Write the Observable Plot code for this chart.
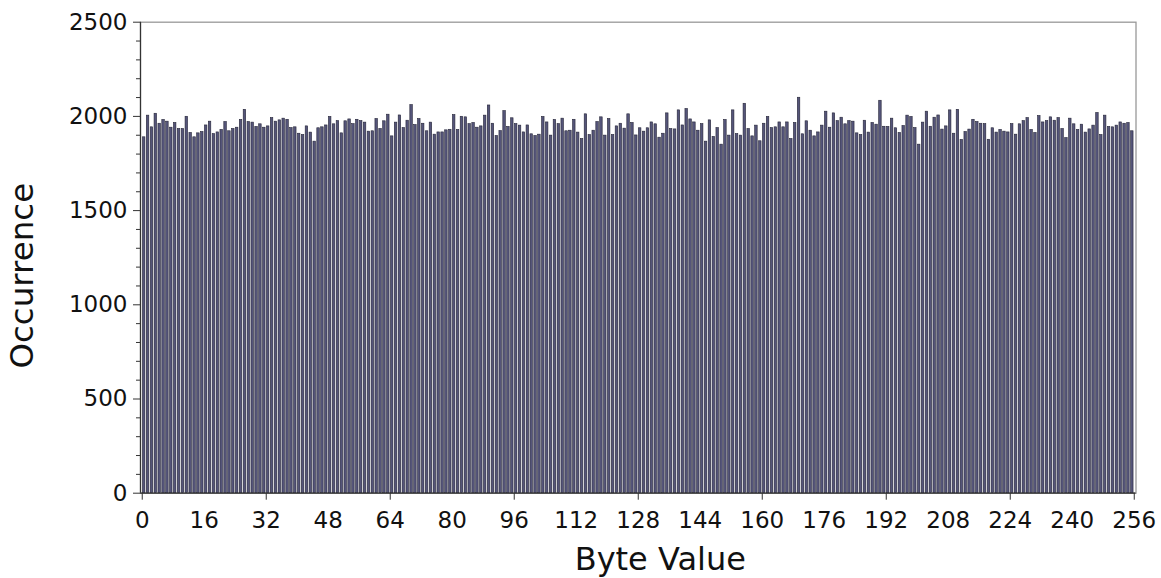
<!DOCTYPE html>
<html>
<head>
<meta charset="utf-8">
<script src="https://cdn.jsdelivr.net/npm/d3@7"></script>
<script src="https://cdn.jsdelivr.net/npm/@observablehq/plot@0.6"></script>
<style>
  html, body { margin: 0; padding: 0; background: #fff; }
  #chart svg { display: block; }
</style>
</head>
<body>
<div id="chart"></div>
<script>
const occurrences = [
  1889, 2004, 1942, 2014, 1961, 1981, 1972, 1940, 1965, 1933,
  1933, 1998, 1912, 1889, 1910, 1917, 1952, 1972, 1906, 1915,
  1928, 1970, 1921, 1933, 1940, 1981, 2035, 1970, 1967, 1944,
  1958, 1940, 1947, 1991, 1972, 1979, 1988, 1982, 1938, 1942,
  1908, 1901, 1947, 1914, 1866, 1937, 1942, 1952, 1997, 1958,
  1975, 1910, 1974, 1984, 1959, 1982, 1975, 1967, 1919, 1921,
  1986, 1933, 1974, 2009, 1894, 1967, 2005, 1938, 1977, 2060,
  1954, 1986, 1961, 1921, 1967, 1903, 1915, 1915, 1926, 1929,
  2007, 1928, 1998, 1995, 1959, 1965, 1940, 1947, 2004, 2058,
  1961, 1896, 1922, 2028, 1944, 1990, 1959, 1951, 1915, 1952,
  1905, 1896, 1903, 1997, 1968, 1898, 1981, 1959, 1988, 1921,
  1924, 1982, 1914, 1880, 2011, 1901, 1924, 1970, 1995, 1898,
  1986, 1901, 1947, 1961, 1935, 2011, 1965, 1899, 1937, 1919,
  1937, 1968, 1958, 1887, 1908, 2016, 1933, 1931, 2032, 1952,
  2039, 1984, 1968, 1924, 1959, 1866, 1979, 1891, 1938, 1850,
  1981, 1898, 2032, 1906, 1898, 2067, 1933, 1894, 1951, 1868,
  1961, 1997, 1938, 1942, 1968, 1942, 1968, 1880, 1965, 2099,
  1905, 1974, 1924, 1894, 1915, 1951, 2025, 1940, 2016, 1975,
  1993, 1958, 1975, 1972, 1910, 1901, 1977, 1914, 1965, 1956,
  2083, 1945, 1944, 1988, 1937, 1912, 1949, 2004, 1997, 1938,
  1850, 1967, 2025, 1945, 1993, 2005, 1930, 1947, 2032, 1908,
  2035, 1875, 1917, 1930, 1982, 1970, 1961, 1959, 1876, 1937,
  1914, 1928, 1919, 1915, 1959, 1903, 1958, 1975, 1991, 1928,
  1912, 2002, 1968, 1975, 1995, 1977, 1991, 1933, 1885, 1988,
  1958, 1928, 1956, 1914, 1931, 1951, 2018, 1901, 2004, 1944,
  1942, 1951, 1968, 1961, 1965, 1921
];
const byteValues = d3.range(occurrences.length);
const xTickLabels = [0, 16, 32, 48, 64, 80, 96, 112, 128, 144, 160, 176, 192, 208, 224, 240, 256];
const xTickMarks = [0, 32, 64, 96, 128, 160, 192, 224, 256];
const yTickLabels = [0, 500, 1000, 1500, 2000, 2500];
const yMinorTicks = d3.range(0, 2501, 100).filter(v => v % 500 !== 0);
const xTitle = "Byte Value";
const yTitle = "Occurrence";

const data = byteValues.map((b, i) => ({byte: b, count: occurrences[i]}));
const halfWidth = 0.32;
const font = "DejaVu Sans";

const chart = Plot.plot({
  width: 1161,
  height: 578,
  marginLeft: 140,
  marginRight: 25.5,
  marginTop: 21.7,
  marginBottom: 85.3,
  style: {fontFamily: font, background: "#fff", color: "#111"},
  x: {type: "linear", domain: [-0.45, 256.45]},
  y: {domain: [0, 2500]},
  marks: [
    Plot.frame({stroke: "#999", strokeWidth: 1.3}),
    Plot.rectY(data, {
      x1: d => d.byte + 0.5 - halfWidth,
      x2: d => d.byte + 0.5 + halfWidth,
      y1: 0,
      y2: "count",
      fill: "#55557a",
      stroke: "#242436",
      strokeWidth: 0.6
    }),
    Plot.ruleY([0], {stroke: "#333", strokeWidth: 1.2}),
    Plot.ruleX([-0.45], {stroke: "#333", strokeWidth: 1.2}),
    Plot.axisY(yTickLabels, {tickSize: 7, tickPadding: 6, fontSize: 23, label: null, stroke: "#333", tickFormat: d3.format("d")}),
    Plot.axisY(yMinorTicks, {tickSize: 4, text: null, label: null, stroke: "#333"}),
    Plot.axisX(xTickMarks, {tickSize: 7, text: null, label: null, stroke: "#333"}),
    Plot.axisX(xTickLabels, {tickSize: 0, tickPadding: 18, fontSize: 23, label: null, tickFormat: d3.format("d")}),
    Plot.text([yTitle], {frameAnchor: "left", rotate: -90, dx: -118, dy: 18, fontSize: 32.5, fill: "#111", textAnchor: "middle", lineAnchor: "middle"}),
    Plot.text([xTitle], {frameAnchor: "bottom", dx: 22, dy: 77, fontSize: 32, fill: "#111", textAnchor: "middle", lineAnchor: "bottom"})
  ]
});
document.getElementById("chart").appendChild(chart);
</script>
</body>
</html>
